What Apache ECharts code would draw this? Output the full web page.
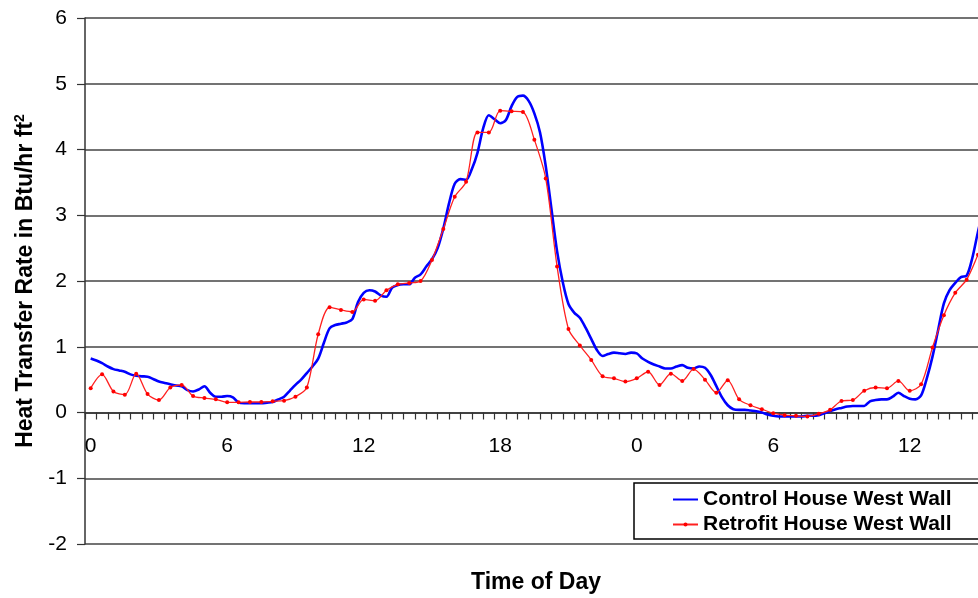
<!DOCTYPE html>
<html>
<head>
<meta charset="utf-8">
<script src="https://cdn.jsdelivr.net/npm/echarts@6/dist/echarts.min.js"></script>
<style>
html,body{margin:0;padding:0;background:#fff;}
#c{width:978px;height:598px;}
</style>
</head>
<body>
<div id="c"></div>
<script>
// Time of day (hours from first midnight); red sampled every 0.5 h, blue every 0.25 h
const redStep = 0.5;
const blueStep = 0.25;
const xLabelHours = [0, 6, 12, 18, 24, 30, 36];
const yTicks = [-2, -1, 0, 1, 2, 3, 4, 5, 6];
const seriesNames = ['Control House West Wall', 'Retrofit House West Wall'];

const retrofitValues = [
  0.37,0.58,0.32,0.27,0.59,0.28,0.19,0.38,0.42,0.25,
  0.22,0.20,0.155,0.155,0.16,0.16,0.17,0.18,0.24,0.38,
  1.19,1.60,1.56,1.53,1.72,1.70,1.86,1.95,1.97,2.00,
  2.32,2.79,3.28,3.51,4.26,4.26,4.59,4.58,4.57,4.15,
  3.56,2.22,1.27,1.02,0.80,0.55,0.52,0.47,0.52,0.62,
  0.42,0.59,0.48,0.66,0.50,0.30,0.49,0.20,0.11,0.05,
  -0.01,-0.04,-0.05,-0.06,-0.02,0.04,0.175,0.19,0.33,0.38,
  0.37,0.48,0.33,0.43,0.99,1.48,1.82,2.02,2.40,2.80
];

const controlValues = [
  0.82,0.79,0.75,0.70,0.66,0.64,0.62,0.58,0.56,0.55,
  0.545,0.51,0.47,0.45,0.43,0.41,0.40,0.34,0.32,0.35,
  0.40,0.30,0.24,0.24,0.25,0.23,0.15,0.14,0.14,0.14,
  0.14,0.15,0.16,0.20,0.24,0.33,0.42,0.50,0.60,0.70,
  0.82,1.06,1.28,1.33,1.35,1.37,1.42,1.68,1.82,1.86,
  1.84,1.78,1.76,1.90,1.94,1.95,1.95,2.05,2.10,2.22,
  2.33,2.50,2.80,3.18,3.48,3.55,3.54,3.70,3.95,4.32,
  4.52,4.46,4.40,4.45,4.66,4.80,4.82,4.74,4.55,4.26,
  3.75,3.10,2.45,1.98,1.65,1.52,1.44,1.29,1.12,0.95,
  0.86,0.89,0.91,0.90,0.89,0.91,0.90,0.82,0.77,0.73,
  0.70,0.67,0.67,0.70,0.72,0.68,0.67,0.70,0.68,0.57,
  0.40,0.23,0.11,0.05,0.04,0.04,0.03,0.02,0.00,-0.03,
  -0.05,-0.06,-0.06,-0.06,-0.06,-0.06,-0.05,-0.05,-0.04,-0.01,
  0.02,0.05,0.07,0.09,0.10,0.10,0.10,0.17,0.19,0.20,
  0.20,0.24,0.30,0.25,0.21,0.20,0.26,0.52,0.85,1.26,
  1.66,1.86,1.97,2.06,2.08,2.35,2.75,3.10
];

const redData = retrofitValues.map((v, i) => [i * redStep, v]);
const blueData = controlValues.map((v, i) => [i * blueStep, v]);

const xMin = -0.25, xMax = 39;
const tickVals = [];
for (let t = xMin; t <= xMax + 1e-9; t += 0.5) tickVals.push(t);

const FONT = '"Liberation Sans", Arial, sans-serif';
const GRID_TOP = 18, GRID_BOTTOM = 54, H = 598;
const plotH = H - GRID_TOP - GRID_BOTTOM;
const zeroOffset = -plotH * (0 - yTicks[0]) / (yTicks[yTicks.length - 1] - yTicks[0]);

const chart = echarts.init(document.getElementById('c'), null, {renderer: 'canvas'});
chart.setOption({
  animation: false,
  backgroundColor: '#fff',
  grid: {left: 85, right: 0, top: GRID_TOP, bottom: GRID_BOTTOM, containLabel: false},
  xAxis: {
    type: 'value', min: xMin, max: xMax, offset: zeroOffset,
    axisLine: {onZero: false, lineStyle: {color: '#333', width: 1.5}},
    axisTick: {show: true, customValues: tickVals, length: 7, inside: false, lineStyle: {color: '#333', width: 1.2}},
    axisLabel: {customValues: xLabelHours, formatter: v => String(Math.round(v) % 24), fontSize: 21, color: '#000', fontFamily: FONT, margin: 23},
    splitLine: {show: false}
  },
  yAxis: {
    type: 'value', min: yTicks[0], max: yTicks[yTicks.length - 1], interval: 1,
    axisLine: {show: true, onZero: false, lineStyle: {color: '#333', width: 1.5}},
    axisTick: {show: true, length: 8, lineStyle: {color: '#333', width: 1.2}},
    axisLabel: {fontSize: 21, color: '#000', fontFamily: FONT, margin: 18},
    splitLine: {show: true, lineStyle: {color: '#444', width: 1.5}}
  },
  legend: {
    orient: 'vertical', left: 634, top: 483,
    backgroundColor: '#fff', borderColor: '#000', borderWidth: 1.5, borderRadius: 0,
    padding: [6, 40, 4, 38], itemWidth: 25, itemHeight: 5, itemGap: 4,
    textStyle: {fontSize: 21, fontWeight: 'bold', color: '#000', fontFamily: FONT, lineHeight: 14},
    data: [
      {name: seriesNames[0], itemStyle: {opacity: 0}},
      {name: seriesNames[1]}
    ]
  },
  graphic: [
    {type: 'text', x: 26, y: 281, rotation: Math.PI / 2,
     style: {text: 'Heat Transfer Rate in Btu/hr ft{s|2}', rich: {s: {fontSize: 14, fontWeight: 'bold', fontFamily: FONT, fill: '#000', verticalAlign: 'top', padding: [0, 0, 12, 0]}},
       font: 'bold 23px ' + FONT, fill: '#000', align: 'center', verticalAlign: 'middle'}},
    {type: 'text', x: 536, y: 583,
     style: {text: 'Time of Day', font: 'bold 23px ' + FONT, fill: '#000', align: 'center', verticalAlign: 'middle'}}
  ],
  series: [
    {name: seriesNames[0], type: 'line', data: blueData, symbol: 'none', smooth: 0.3, clip: true,
     lineStyle: {color: '#0000ff', width: 2.6}, itemStyle: {color: '#0000ff'}, z: 2},
    {name: seriesNames[1], type: 'line', data: redData, symbol: 'circle', symbolSize: 4, smooth: 0.3, clip: true,
     lineStyle: {color: '#ff2020', width: 1.3}, itemStyle: {color: '#ff0000'}, z: 3}
  ]
});
</script>
</body>
</html>
